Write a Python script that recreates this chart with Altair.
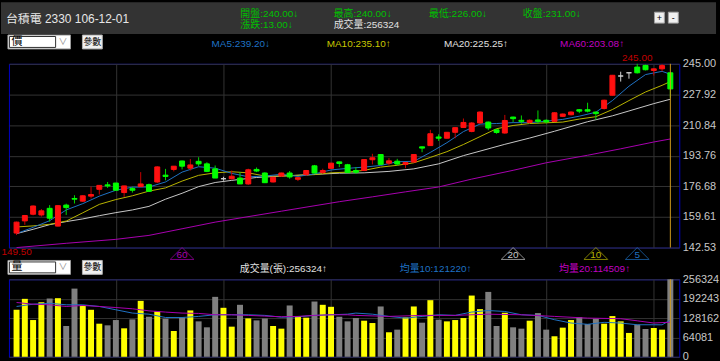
import altair as alt
import pandas as pd

# ---------------- data ----------------
title_text = "台積電 2330 106-12-01"

opens = [150.6, 157.4, 161.1, 160.7, 164.4, 154.5, 166.2, 169.9, 168.4, 171.2,
         175.0, 177.5, 178.5, 173.2, 175.4, 176.5, 177.6, 179.1, 182.9, 186.1,
         190.8, 186.8, 190.6, 189.2, 186.4, 180.9, 180.9, 181.3, 178.0, 186.1,
         184.1, 179.1, 182.4, 184.1, 180.6, 183.2, 188.1, 184.4, 186.7, 190.3,
         188.7, 185.5, 185.5, 191.5, 194.4, 189.6, 190.7, 188.9, 190.2, 198.7,
         199.4, 204.2, 203.5, 206.8, 209.5, 207.3, 212.0, 212.5, 208.2, 206.4,
         215.3, 213.5, 212.3, 213.7, 213.5, 212.9, 215.7, 216.6, 219.4, 219.4,
         218.1, 220.1, 227.5, 238.2, 240.0, 243.2, 244.1, 241.3, 242.2, 240.0]
highs = [157.0, 160.7, 166.0, 164.0, 166.2, 166.2, 167.0, 171.7, 171.7, 176.5,
         177.2, 179.1, 178.6, 177.0, 176.3, 184.6, 178.2, 187.9, 186.4, 188.0,
         191.0, 191.9, 192.9, 190.1, 188.3, 182.0, 185.5, 184.6, 186.5, 187.2,
         184.5, 182.0, 184.3, 185.2, 181.8, 185.8, 188.6, 186.5, 189.8, 190.5,
         189.2, 187.4, 191.8, 194.8, 194.6, 192.4, 192.0, 190.2, 194.6, 198.9,
         208.2, 205.7, 207.0, 209.6, 214.5, 212.5, 218.5, 212.8, 208.5, 216.5,
         215.5, 216.2, 214.0, 219.0, 214.0, 218.0, 217.3, 218.5, 219.8, 223.3,
         218.3, 225.0, 238.8, 240.6, 240.0, 245.0, 244.5, 242.4, 244.8, 240.0]
lows = [149.5, 155.2, 160.5, 159.8, 157.0, 154.3, 160.7, 167.1, 168.0, 169.9,
        172.1, 175.8, 174.4, 170.8, 173.2, 176.5, 173.5, 178.5, 180.0, 185.0,
        186.1, 185.5, 188.0, 184.6, 181.3, 179.8, 180.5, 178.0, 177.5, 184.6,
        178.5, 178.8, 182.0, 180.9, 179.6, 182.5, 183.8, 183.7, 186.5, 187.4,
        184.3, 183.7, 185.2, 188.9, 188.7, 188.3, 188.3, 186.8, 190.0, 195.7,
        199.2, 202.0, 203.3, 203.5, 209.5, 206.8, 211.5, 208.0, 206.0, 206.0,
        212.5, 211.6, 211.8, 211.6, 211.8, 212.5, 215.3, 216.2, 217.5, 217.9,
        213.8, 219.5, 227.2, 235.1, 236.7, 239.6, 241.3, 238.5, 240.8, 226.0]
closes = [156.7, 160.4, 165.7, 163.0, 158.9, 165.9, 164.8, 169.5, 171.4, 172.1,
          177.2, 176.9, 174.5, 176.9, 174.5, 178.0, 173.9, 187.5, 182.2, 187.9,
          187.9, 188.6, 189.2, 185.0, 181.3, 180.9, 182.3, 178.0, 185.9, 185.2,
          178.7, 181.7, 184.1, 181.9, 181.5, 185.5, 184.1, 185.5, 189.6, 189.4,
          184.3, 184.5, 191.6, 192.6, 188.9, 190.9, 189.1, 190.0, 194.4, 198.0,
          206.0, 203.5, 206.8, 209.4, 212.3, 212.0, 218.1, 209.2, 206.7, 213.4,
          214.4, 212.9, 213.5, 212.9, 212.6, 217.7, 217.0, 218.1, 218.6, 218.6,
          217.2, 224.7, 238.6, 238.2, 240.0, 240.0, 241.7, 242.2, 244.0, 231.0]
volumes = [155500, 191700, 121600, 180700, 192800, 193900, 101900, 225600, 169800, 155500,
           109500, 104100, 121600, 94200, 123800, 185100, 132500, 150100, 126000, 85400,
           130400, 153400, 117200, 97500, 198300, 162100, 99700, 172000, 127100, 120500,
           127100, 101900, 93100, 169800, 134700, 129300, 182900, 172000, 165400, 132500,
           117200, 128200, 119400, 111700, 166500, 81100, 89800, 130400, 166500, 112800,
           187300, 122700, 117200, 121600, 128200, 202600, 157700, 214700, 101900, 145700,
           97500, 93100, 119400, 144600, 89800, 67900, 96400, 121600, 131400, 108400,
           126000, 109500, 134700, 117200, 78900, 106300, 92000, 95300, 89800, 256324]

ma5_bars = [1, 3, 5, 7, 9, 11, 13, 15, 17, 19, 21, 23, 25, 27, 29, 31, 33, 35, 37, 39, 41,
            43, 45, 47, 49, 51, 53, 55, 57, 59, 61, 63, 65, 67, 69, 71, 73, 75, 77, 79, 80]
ma5_vals = [150.3, 153.8, 157.5, 163.5, 167.0, 171.2, 174.5, 176.2, 176.3, 179.1, 184.6,
            187.6, 186.8, 183.9, 182.0, 182.4, 183.4, 182.2, 183.6, 185.8, 186.7,
            187.4, 188.3, 190.4, 190.6, 195.6, 201.0, 207.2, 211.4, 211.7, 212.2,
            212.2, 213.0, 214.0, 215.8, 218.0, 224.5, 232.5, 239.0, 240.8, 239.2]
ma10_bars = [1, 3, 5, 7, 9, 11, 13, 15, 17, 19, 21, 23, 25, 27, 29, 31, 33, 35, 37, 39, 41,
             43, 45, 47, 49, 51, 53, 55, 57, 59, 61, 63, 65, 67, 69, 71, 73, 75, 77, 79, 80]
ma10_vals = [154.0, 154.6, 155.5, 157.3, 161.9, 166.6, 169.3, 171.4, 174.0, 175.8, 179.6,
             182.8, 184.2, 184.8, 184.2, 182.4, 182.4, 182.8, 183.2, 184.2, 184.6,
             185.6, 187.4, 188.4, 189.8, 192.8, 196.0, 200.0, 204.4, 208.8, 210.6,
             211.7, 212.1, 212.5, 214.2, 215.5, 219.5, 224.5, 229.3, 233.0, 235.1]
ma20_bars = [1, 3, 5, 7, 9, 11, 13, 15, 17, 19, 21, 23, 25, 27, 30, 33, 36, 40, 43, 46,
             49, 52, 55, 57, 60, 63, 66, 70, 73, 75, 78, 80]
ma20_vals = [150.3, 152.7, 155.3, 157.0, 158.5, 160.3, 162.0, 163.5, 165.5, 169.5, 172.8,
             176.5, 178.8, 180.0, 181.6, 182.4, 183.1, 184.0, 184.2, 185.0, 186.4,
             189.2, 193.8, 196.3, 200.1, 203.6, 207.4, 212.7, 216.0, 218.7, 222.8, 225.25]
ma60_bars = [1, 7, 13, 17, 21, 25, 28, 33, 40, 44, 48, 52, 56, 61, 65, 70, 74, 78, 80]
ma60_vals = [142.5, 144.9, 147.1, 149.3, 153.0, 156.7, 159.0, 162.8, 168.1, 170.8, 173.6,
             176.3, 180.7, 185.6, 189.8, 194.0, 197.6, 201.4, 203.08]

vma10_bars = [1, 3, 5, 7, 9, 11, 13, 15, 17, 19, 21, 23, 25, 27, 29, 31, 33, 35, 37, 39, 41,
              42, 44, 46, 48, 50, 52, 54, 56, 58, 60, 62, 64, 66, 68, 70, 72, 74, 76, 78, 79, 80]
vma10_vals = [166500, 174000, 177000, 172000, 172000, 166500, 155500, 144600, 141000, 130000,
              130000, 133600, 139000, 139000, 139000, 137000, 131000, 132500, 137000, 139000,
              141000, 144600, 141000, 133600, 128000, 133600, 139000, 137000, 148000, 153000,
              150000, 139000, 137000, 122700, 111700, 107500, 114000, 111700, 106000, 106000,
              105800, 121220]
vma20_bars = [1, 3, 5, 7, 9, 11, 13, 15, 17, 19, 21, 23, 25, 27, 29, 31, 33, 35, 37, 39, 41,
              42, 46, 50, 54, 58, 62, 66, 70, 74, 76, 78, 80]
vma20_vals = [179600, 174000, 172000, 166500, 169800, 166500, 163000, 158800, 152000, 147900,
              144600, 143500, 139000, 139000, 137000, 134700, 132500, 133600, 137000, 139000,
              139000, 137000, 133600, 137000, 137000, 141000, 139000, 133600, 128000, 126000,
              119000, 111700, 114509]

price_ticks = [142.53, 159.61, 176.68, 193.76, 210.84, 227.92, 245.00]
vol_ticks = [0, 64081, 128162, 192243, 256324]
grid_bars = [13, 26, 39, 52, 65, 78]
ma_periods = ["60", "20", "10", "5"]

# ---------------- style ----------------
FONT = "Liberation Sans, Noto Sans CJK TC"
GRID = "#333333"
LAB = "#c8c8c8"
GREEN_TXT = "#00c000"
C_MA5 = "#1f72c4"
C_MA10 = "#b8b400"
C_MA20 = "#c8c8c8"
C_MA60 = "#a800b0"
W, HP, HV = 675, 185, 78
XDOM = [0.08, 81.08]

n = len(closes)
bars = list(range(1, n + 1))
df = pd.DataFrame({"bar": bars, "open": opens, "high": highs, "low": lows,
                   "close": closes, "vol": volumes})
df["dir"] = ["up" if c > o else ("down" if c < o else "flat") for o, c in zip(opens, closes)]
df["vdir"] = ["up" if c >= o else "down" for o, c in zip(opens, closes)]


def X():
    return alt.X("bar:Q", scale=alt.Scale(domain=XDOM, nice=False, zero=False, padding=0),
                 axis=alt.Axis(values=grid_bars, labels=False, ticks=False, domain=False,
                               grid=True, gridColor=GRID, title=None))


def PY(f):
    return alt.Y(f"{f}:Q", scale=alt.Scale(domain=[price_ticks[0], price_ticks[-1]], nice=False,
                                           zero=False, padding=0),
                 axis=alt.Axis(orient="right", values=price_ticks, format=".2f", labelColor=LAB,
                               labelFont=FONT, labelFontSize=11, labelPadding=3, labelFlush=False,
                               grid=True, gridColor=GRID, domain=False, ticks=False, title=None))


def VY(f):
    return alt.Y(f"{f}:Q", scale=alt.Scale(domain=[vol_ticks[0], vol_ticks[-1]], nice=False,
                                           zero=True, padding=0),
                 axis=alt.Axis(orient="right", values=vol_ticks, format="d", labelColor=LAB,
                               labelFont=FONT, labelFontSize=11, labelPadding=3, labelFlush=False,
                               grid=True, gridColor=GRID, domain=False, ticks=False, title=None))


ONE = pd.DataFrame({"a": [0]})


def txt(s, x, y, color, size=10, align="left"):
    return alt.Chart(pd.DataFrame({"t": [s]})).mark_text(
        align=align, baseline="middle", color=color, fontSize=size, font=FONT
    ).encode(text="t:N", x=alt.value(x), y=alt.value(y))


def box(x1, y1, x2, y2, fill, stroke=""):
    kw = {"fill": fill}
    if stroke:
        kw["stroke"] = stroke
        kw["strokeWidth"] = 1
    return alt.Chart(ONE).mark_rect(**kw).encode(
        x=alt.value(x1), x2=alt.value(x2), y=alt.value(y1), y2=alt.value(y2))


def selector(label, y1, y2):
    ym = (y1 + y2) / 2
    return [
        box(-1, y1, 62, y2, "#ffffff", "#9a9a9a"),
        box(0.5, y1 + 1.5, 47, y2 - 1.5, "#ffffff", "#303030"),
        txt(label, 2.5, ym, "#000000", 11),
        txt("∨", 54.5, ym, "#8a8a8a", 9, "center"),
        box(74, y1, 94, y2, "#f0f0f0", "#b0b0b0"),
        txt("參數", 84, ym, "#000000", 9, "center"),
    ]


# ---------------- price panel ----------------
def line(bs, vs, color, yf=PY):
    d = pd.DataFrame({"bar": bs, "v": vs})
    return alt.Chart(d).mark_line(color=color, strokeWidth=1).encode(x=X(), y=yf("v"))


cscale = alt.Scale(domain=["up", "down", "flat"], range=["#ff1010", "#00ff00", "#d0d0d0"])
wscale = alt.Scale(domain=["up", "down", "flat"], range=["#c80000", "#00d800", "#d0d0d0"])

wicks = alt.Chart(df).mark_rule(strokeWidth=1).encode(
    x=X(), y=PY("low"), y2="high:Q", color=alt.Color("dir:N", scale=wscale, legend=None))
bodies = alt.Chart(df).mark_bar(size=5, strokeWidth=1).encode(
    x=X(), y=PY("open"), y2="close:Q",
    fill=alt.Fill("dir:N", scale=cscale, legend=None),
    stroke=alt.Stroke("dir:N", scale=cscale, legend=None))
cursor_p = alt.Chart(df.tail(1)).mark_rule(color="#d09a1a", strokeWidth=1).encode(x=X())

imax = highs.index(max(highs))
imin = lows.index(min(lows))
maxlab = alt.Chart(pd.DataFrame({"bar": [bars[imax]], "t": [f"{highs[imax]:.2f}"]})).mark_text(
    color="#c00000", fontSize=10, font=FONT, baseline="middle").encode(x=X(), y=alt.value(-6), text="t:N")
minlab = alt.Chart(pd.DataFrame({"bar": [bars[imin]], "t": [f"{lows[imin]:.2f}"]})).mark_text(
    color="#c00000", fontSize=10, font=FONT, baseline="middle").encode(x=X(), y=alt.value(190), text="t:N")

tri_df = pd.DataFrame({"bar": [n - int(p) + 1 for p in ma_periods], "lab": ma_periods})
tscale = alt.Scale(domain=ma_periods, range=[C_MA60, C_MA20, C_MA10, C_MA5])
tris = alt.Chart(tri_df).mark_point(shape="M -1 0.5 L 0 -0.5 L 1 0.5 Z", size=576, filled=False,
                                    strokeWidth=1).encode(
    x=X(), y=alt.value(191), color=alt.Color("lab:N", scale=tscale, legend=None))
tri_txt = alt.Chart(tri_df).mark_text(fontSize=10, font=FONT, baseline="middle").encode(
    x=X(), y=alt.value(192.5), text="lab:N", color=alt.Color("lab:N", scale=tscale, legend=None))

header = [
    box(-8, -62, 712, -30, "#333333"),
    txt(title_text, -3, -45, "#e6e6e6", 12),
    txt(f"開盤:{opens[-1]:.2f}↓", 233, -50.5, GREEN_TXT),
    txt(f"漲跌:{closes[-2] - closes[-1]:.2f}↓", 233, -39, GREEN_TXT),
    txt(f"最高:{highs[-1]:.2f}↓", 327, -50.5, GREEN_TXT),
    txt(f"成交量:{volumes[-1]}", 327, -39, "#e0e0e0"),
    txt(f"最低:{lows[-1]:.2f}↓", 423, -50.5, GREEN_TXT),
    txt(f"收盤:{closes[-1]:.2f}↓", 517.5, -50.5, GREEN_TXT),
    box(650, -52, 660, -41, "#f0f0f0", "#a0a0a0"),
    txt("+", 655, -46.5, "#000000", 9, "center"),
    box(664, -52, 674, -41, "#f0f0f0", "#a0a0a0"),
    txt("-", 669, -46.5, "#000000", 9, "center"),
] + selector("價", -29, -15) + [
    txt(f"MA5:{ma5_vals[-1]:.2f}↓", 204, -19.5, C_MA5),
    txt(f"MA10:{ma10_vals[-1]:.2f}↑", 320, -19.5, "#c8c800"),
    txt(f"MA20:{ma20_vals[-1]:.2f}↑", 438, -19.5, "#e0e0e0"),
    txt(f"MA60:{ma60_vals[-1]:.2f}↑", 555, -19.5, "#c000c0"),
]

price = alt.layer(
    *header,
    line(ma60_bars, ma60_vals, C_MA60),
    line(ma20_bars, ma20_vals, C_MA20),
    line(ma10_bars, ma10_vals, C_MA10),
    line(ma5_bars, ma5_vals, C_MA5),
    wicks, bodies, cursor_p, maxlab, minlab, tris, tri_txt,
).properties(width=W, height=HP).resolve_scale(color="independent")

# ---------------- volume panel ----------------
vscale = alt.Scale(domain=["up", "down"], range=["#ffff00", "#808080"])
vbars = alt.Chart(df).mark_bar(size=6).encode(
    x=X(), y=VY("vol"), color=alt.Color("vdir:N", scale=vscale, legend=None))
cursor_v = alt.Chart(df.tail(1)).mark_rule(color="#d09a1a", strokeWidth=1).encode(x=X())

vol = alt.layer(
    *selector("量", -19, -5),
    txt(f"成交量(張):{volumes[-1]}↑", 232.5, -10.5, "#e0e0e0"),
    txt(f"均量10:{vma10_vals[-1]}↑", 393.5, -10.5, C_MA5),
    txt(f"均量20:{vma20_vals[-1]}↑", 554, -10.5, "#c000c0"),
    vbars,
    line(vma10_bars, vma10_vals, C_MA5, VY),
    line(vma20_bars, vma20_vals, C_MA60, VY),
    cursor_v,
).properties(width=W, height=HV)

chart = alt.vconcat(price, vol, spacing=32, bounds="flush").resolve_scale(
    color="independent", x="independent", y="independent"
).properties(padding=0).configure(background="#000000").configure_view(
    stroke="#0000c8", strokeWidth=1)

chart.save("out.html", embed_options={"renderer": "svg", "actions": False})
